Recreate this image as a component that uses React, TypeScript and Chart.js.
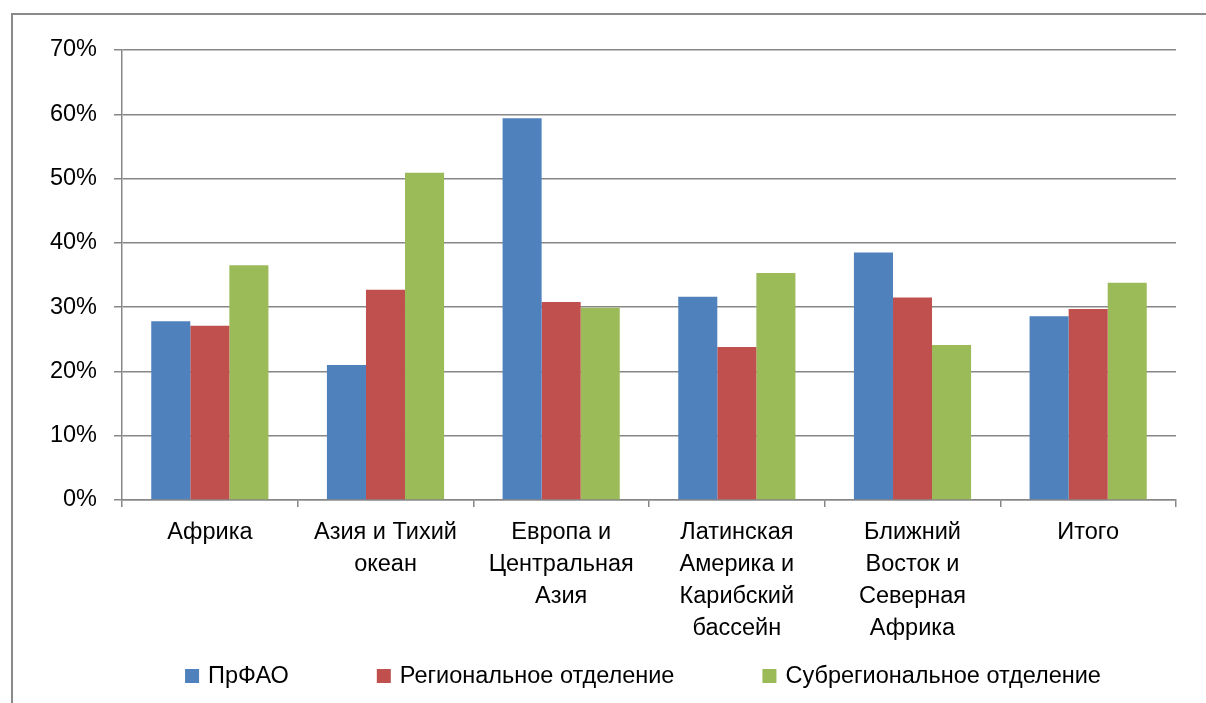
import React, { useEffect, useRef } from "react";
import { Chart, registerables } from "chart.js";

Chart.register(...registerables);

const categories: string[][] = [
  ["Африка"],
  ["Азия и Тихий", "океан"],
  ["Европа и", "Центральная", "Азия"],
  ["Латинская", "Америка и", "Карибский", "бассейн"],
  ["Ближний", "Восток и", "Северная", "Африка"],
  ["Итого"],
];
const seriesNames = ["ПрФАО", "Региональное отделение", "Субрегиональное отделение"];
const prfao = [27.8, 21.0, 59.4, 31.6, 38.5, 28.6];
const regional = [27.1, 32.7, 30.8, 23.8, 31.5, 29.7];
const subregional = [36.5, 50.9, 29.9, 35.3, 24.1, 33.8];
const seriesColors = ["#4F81BD", "#C0504D", "#9BBB59"];
const yMin = 0;
const yMax = 70;
const yStep = 10;

const FONT = "'Liberation Sans', Arial, sans-serif";
const FONT_SIZE = 23.5;
const GRID = "#878787";

const framePlugin = {
  id: "frame",
  beforeDraw(chart: any) {
    const ctx = chart.ctx;
    ctx.save();
    ctx.strokeStyle = "#8a8a8a";
    ctx.lineWidth = 2;
    ctx.beginPath();
    ctx.moveTo(12, chart.height);
    ctx.lineTo(12, 14);
    ctx.lineTo(chart.width, 14);
    ctx.stroke();
    ctx.restore();
  },
};

const legendPlugin = {
  id: "customLegend",
  afterDraw(chart: any) {
    const ctx = chart.ctx;
    const box = 14;
    const boxGap = 9;
    const itemGap = 88;
    ctx.save();
    ctx.font = `${FONT_SIZE}px ${FONT}`;
    ctx.textBaseline = "middle";
    ctx.textAlign = "left";
    const ds = chart.data.datasets;
    const widths = ds.map((d: any) => box + boxGap + ctx.measureText(d.label).width);
    const total = widths.reduce((a: number, b: number) => a + b, 0) + itemGap * (ds.length - 1);
    const center = (chart.chartArea.left + chart.chartArea.right) / 2 - 6;
    let x = center - total / 2;
    const y = 676;
    ds.forEach((d: any, i: number) => {
      ctx.fillStyle = d.backgroundColor;
      ctx.fillRect(x, y - box / 2, box, box);
      ctx.fillStyle = "#000";
      ctx.fillText(d.label, x + box + boxGap, y + 1);
      x += widths[i] + itemGap;
    });
    ctx.restore();
  },
};

export default function App() {
  const ref = useRef<HTMLCanvasElement>(null);
  useEffect(() => {
    if (!ref.current) return;
    const chart = new Chart(ref.current, {
      type: "bar",
      data: {
        labels: categories,
        datasets: [prfao, regional, subregional].map((vals, i) => ({
          label: seriesNames[i],
          data: vals,
          backgroundColor: seriesColors[i],
          borderWidth: 0,
          categoryPercentage: 0.667,
          barPercentage: 1,
        })),
      },
      options: {
        responsive: false,
        animation: false,
        layout: { padding: { left: 0, top: 50, right: 30, bottom: 0 } },
        plugins: { legend: { display: false }, tooltip: { enabled: false } },
        scales: {
          x: {
            grid: {
              offset: true,
              drawOnChartArea: false,
              drawTicks: true,
              tickLength: 7,
              color: GRID,
              lineWidth: 1.5,
            },
            border: { color: GRID, width: 1.5 },
            ticks: {
              color: "#000",
              padding: 10,
              maxRotation: 0,
              autoSkip: false,
              font: { family: FONT, size: FONT_SIZE, lineHeight: 32 / FONT_SIZE },
            },
            afterFit(scale: any) {
              scale.height = 203;
            },
          },
          y: {
            min: yMin,
            max: yMax,
            ticks: {
              stepSize: yStep,
              color: "#000",
              padding: 17,
              font: { family: FONT, size: FONT_SIZE },
              callback: (v: any) => `${v}%`,
            },
            grid: { color: GRID, lineWidth: 1.5, tickLength: 8 },
            border: { color: GRID, width: 1.5 },
            afterFit(scale: any) {
              scale.width = 122;
            },
          },
        },
      },
      plugins: [framePlugin, legendPlugin],
    });
    return () => chart.destroy();
  }, []);
  return (
    <div style={{ position: "absolute", left: 0, top: 0, width: 1206, height: 703, background: "#fff" }}>
      <canvas ref={ref} width={1206} height={703} style={{ display: "block" }} />
    </div>
  );
}
